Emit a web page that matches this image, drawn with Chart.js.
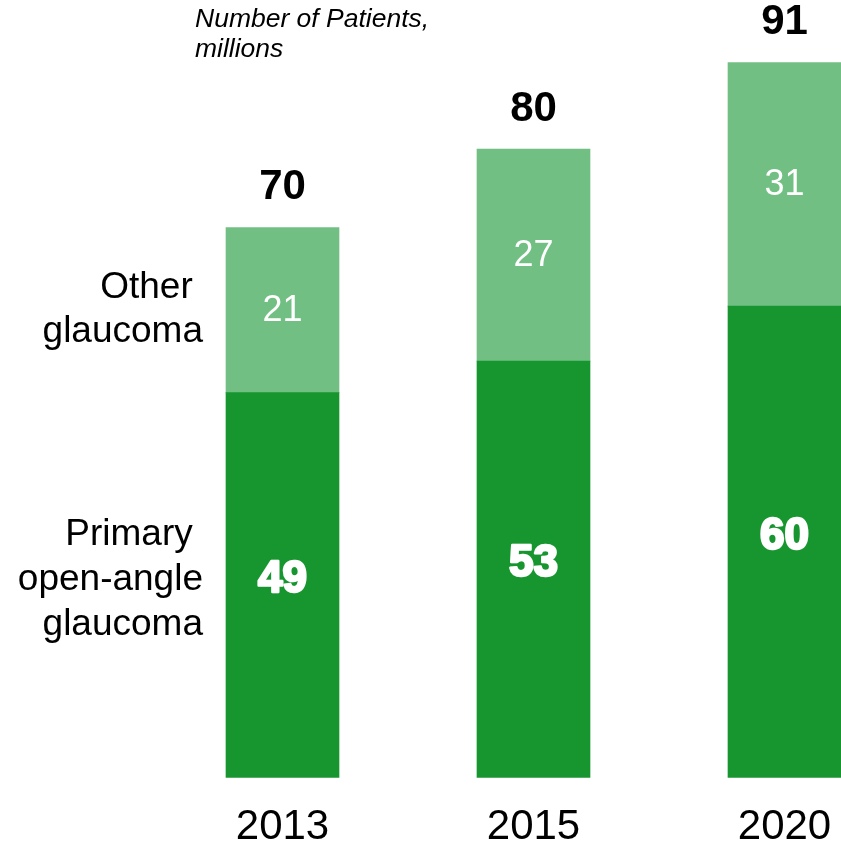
<!DOCTYPE html>
<html>
<head>
<meta charset="utf-8">
<script src="https://cdn.jsdelivr.net/npm/chart.js@4.4.1/dist/chart.umd.min.js"></script>
<style>
    html, body { margin: 0; padding: 0; background: #ffffff; overflow: hidden; }
    #chart-container { width: 841px; height: 848px; }
</style>
</head>
<body>
<div id="chart-container"><canvas id="glaucomaChart" width="841" height="848"></canvas></div>
<script>
    //------------------------------------------Datos------------------------------------------------------------------

    const years = ["2013", "2015", "2020"];
    const primaryOpenAngle = [49, 53, 60];
    const otherGlaucoma = [21, 27, 31];
    const totals = [70, 80, 91];

    const seriesNames = ["Primary open-angle glaucoma", "Other glaucoma"];
    const sideLabelPrimary = ["Primary ", "open-angle", "glaucoma"];
    const sideLabelOther = ["Other ", "glaucoma"];
    const unitTitle = ["Number of Patients,", "millions"];

    const darkGreen = "#17962f";
    const lightGreen = "#72bf84";
    const fontFamily = "Arial, 'Liberation Sans', Helvetica, sans-serif";

    //------------------------------------------Funciones------------------------------------------------------------------

    function drawLines(ctx, lines, x, yCenter, lineHeight) {
        let y0 = yCenter - (lines.length - 1) * lineHeight / 2;
        for (let i = 0; i < lines.length; i++) {
            ctx.fillText(lines[i], x, y0 + i * lineHeight);
        }
    }

    // etiquetas de los segmentos, totales, leyenda lateral y titulo
    const labelPlugin = {
        id: "labelPlugin",
        afterDatasetsDraw(chart) {
            let ctx = chart.ctx;
            let primaryMeta = chart.getDatasetMeta(0);
            let otherMeta = chart.getDatasetMeta(1);
            ctx.save();
            ctx.textAlign = "center";
            ctx.textBaseline = "middle";

            for (let i = 0; i < years.length; i++) {
                let dark = primaryMeta.data[i];
                let light = otherMeta.data[i];

                // segmento inferior: cifra blanca muy gruesa
                ctx.font = "bold 44px " + fontFamily;
                ctx.fillStyle = "#ffffff";
                ctx.strokeStyle = "#ffffff";
                ctx.lineWidth = 2.5;
                ctx.lineJoin = "round";
                let yDark = (dark.y + dark.base) / 2 - 5;
                ctx.strokeText(String(primaryOpenAngle[i]), dark.x, yDark);
                ctx.fillText(String(primaryOpenAngle[i]), dark.x, yDark);

                // segmento superior
                ctx.font = "36px " + fontFamily;
                ctx.fillText(String(otherGlaucoma[i]), light.x, (light.y + light.base) / 2 + 1);

                // total encima de la barra
                ctx.font = "bold 42px " + fontFamily;
                ctx.fillStyle = "#000000";
                ctx.fillText(String(totals[i]), light.x, light.y - 40);
            }

            // leyenda a la izquierda de la primera barra
            let first = primaryMeta.data[0];
            let firstOther = otherMeta.data[0];
            let xRight = first.x - first.width / 2 - 23;
            ctx.textAlign = "right";
            ctx.fillStyle = "#000000";
            ctx.font = "37px " + fontFamily;
            drawLines(ctx, sideLabelOther, xRight, (firstOther.y + firstOther.base) / 2, 44);
            drawLines(ctx, sideLabelPrimary, xRight, (first.y + first.base) / 2 - 5, 45);

            // unidad
            ctx.textAlign = "left";
            ctx.font = "italic 26.5px " + fontFamily;
            drawLines(ctx, unitTitle, 195, 35, 30);
            ctx.restore();
        }
    };

    let ctx = document.getElementById("glaucomaChart").getContext("2d");

    let myChart = new Chart(ctx, {
        type: "bar",
        data: {
            labels: years,
            datasets: [
                {
                    label: seriesNames[0],
                    data: primaryOpenAngle,
                    backgroundColor: darkGreen,
                    barThickness: 113,
                    clip: false
                },
                {
                    label: seriesNames[1],
                    data: otherGlaucoma,
                    backgroundColor: lightGreen,
                    barThickness: 113,
                    clip: false
                }
            ]
        },
        options: {
            responsive: false,
            animation: false,
            layout: {
                padding: { left: 282.5, right: 56.5, top: 15.5, bottom: 0 }
            },
            plugins: {
                legend: { display: false },
                tooltip: { enabled: false }
            },
            scales: {
                x: {
                    stacked: true,
                    offset: false,
                    grid: { display: false, drawTicks: false },
                    border: { display: false },
                    ticks: {
                        color: "#000000",
                        padding: 28.5,
                        maxRotation: 0,
                        autoSkip: false,
                        font: { family: fontFamily, size: 42, lineHeight: 1 }
                    },
                    afterFit(scale) {
                        scale.height = 70.5;
                        scale.paddingLeft = 0;
                        scale.paddingRight = 0;
                    }
                },
                y: {
                    stacked: true,
                    display: false,
                    min: 0,
                    max: 97
                }
            }
        },
        plugins: [labelPlugin]
    });
</script>
</body>
</html>
